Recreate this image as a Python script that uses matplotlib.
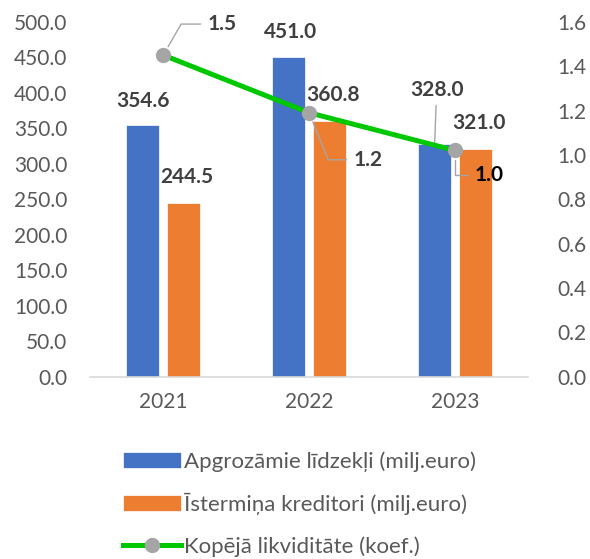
import matplotlib.pyplot as plt
import numpy as np

plt.rcParams['font.family'] = ['Lato', 'DejaVu Sans']

years = ['2021', '2022', '2023']
current_assets = [354.6, 451.0, 328.0]
short_creditors = [244.5, 360.8, 321.0]
liquidity = [1.45, 1.19, 1.02]
liq_labels = ['1.5', '1.2', '1.0']

blue = '#4472C4'
orange = '#ED7D31'
green = '#00C800'
grey = '#A5A5A5'
txt = '#595959'
lbl = '#404040'

fig = plt.figure(figsize=(5.9, 5.59), dpi=100)
ax = fig.add_axes([0.153, 0.326, 0.742, 0.635])
ax2 = ax.twinx()

x = np.arange(len(years))
w = 0.225
b1 = ax.bar(x - 0.14, current_assets, w, color=blue, edgecolor='white', lw=0.5,
            label='Apgrozāmie līdzekļi (milj.euro)')
b2 = ax.bar(x + 0.14, short_creditors, w, color=orange, edgecolor='white', lw=0.5,
            label='Īstermiņa kreditori (milj.euro)')
ln, = ax2.plot(x, liquidity, color=green, lw=3.6, marker='o', ms=10,
               mfc=grey, mec=grey, label='Kopējā likviditāte (koef.)')

ax.set_xlim(-0.5, 2.5)
ax.set_ylim(0, 500)
ax2.set_ylim(0, 1.6)
ax.set_yticks(np.arange(0, 501, 50))
ax.set_yticklabels(['%.1f' % v for v in np.arange(0, 501, 50)])
ax2.set_yticks(np.arange(0, 1.61, 0.2))
ax2.set_yticklabels(['%.1f' % v for v in np.arange(0, 1.61, 0.2)])
ax.set_xticks(x)
ax.set_xticklabels(years)

for a in (ax, ax2):
    for s in a.spines.values():
        s.set_visible(False)
    a.tick_params(length=0, labelsize=15, labelcolor=txt)
ax.spines['bottom'].set_visible(True)
ax.spines['bottom'].set_color('#D9D9D9')
ax.spines['bottom'].set_linewidth(1.2)
ax.tick_params(axis='y', pad=16.5)
ax.tick_params(axis='x', pad=11)
ax2.tick_params(axis='y', pad=21)

# bar value labels (offsets in pixels)
offs1 = [(0, 24), (2, 25), (2, 54)]
offs2 = [(3, 26), (3, 26), (3, 26)]
for i, r in enumerate(b1):
    kw = {}
    if i == 2:
        kw = dict(arrowprops=dict(arrowstyle='-', color=grey, lw=1, shrinkA=2, shrinkB=1))
    ax.annotate('%.1f' % current_assets[i], (r.get_x() + r.get_width() / 2, r.get_height()),
                xytext=offs1[i], textcoords='offset pixels', ha='center', va='center',
                fontsize=15, fontweight='bold', color=lbl, **kw)
for i, r in enumerate(b2):
    ax.annotate('%.1f' % short_creditors[i], (r.get_x() + r.get_width() / 2, r.get_height()),
                xytext=offs2[i], textcoords='offset pixels', ha='center', va='center',
                fontsize=15, fontweight='bold', color=lbl)

# line labels with leader lines
loffs = [(59, 31), (59, -47), (34, -25)]
angs = [60, -68, 90]
for i in range(len(years)):
    ax2.annotate(liq_labels[i], (x[i], liquidity[i]), xytext=loffs[i],
                 textcoords='offset pixels', ha='center', va='center',
                 fontsize=15, fontweight='bold', color=lbl if i < 2 else 'black',
                 arrowprops=dict(arrowstyle='-', color=grey, lw=1, shrinkA=3, shrinkB=7,
                                 connectionstyle='angle,angleA=0,angleB=%d,rad=0' % angs[i]))

fig.legend(handles=[b1, b2, ln], loc='upper center', bbox_to_anchor=(0.508, 0.213),
           frameon=False, fontsize=16, labelcolor=txt, labelspacing=0.95,
           handlelength=2.6, handletextpad=0.15, borderpad=0)

fig.savefig('out.png', dpi=100)
